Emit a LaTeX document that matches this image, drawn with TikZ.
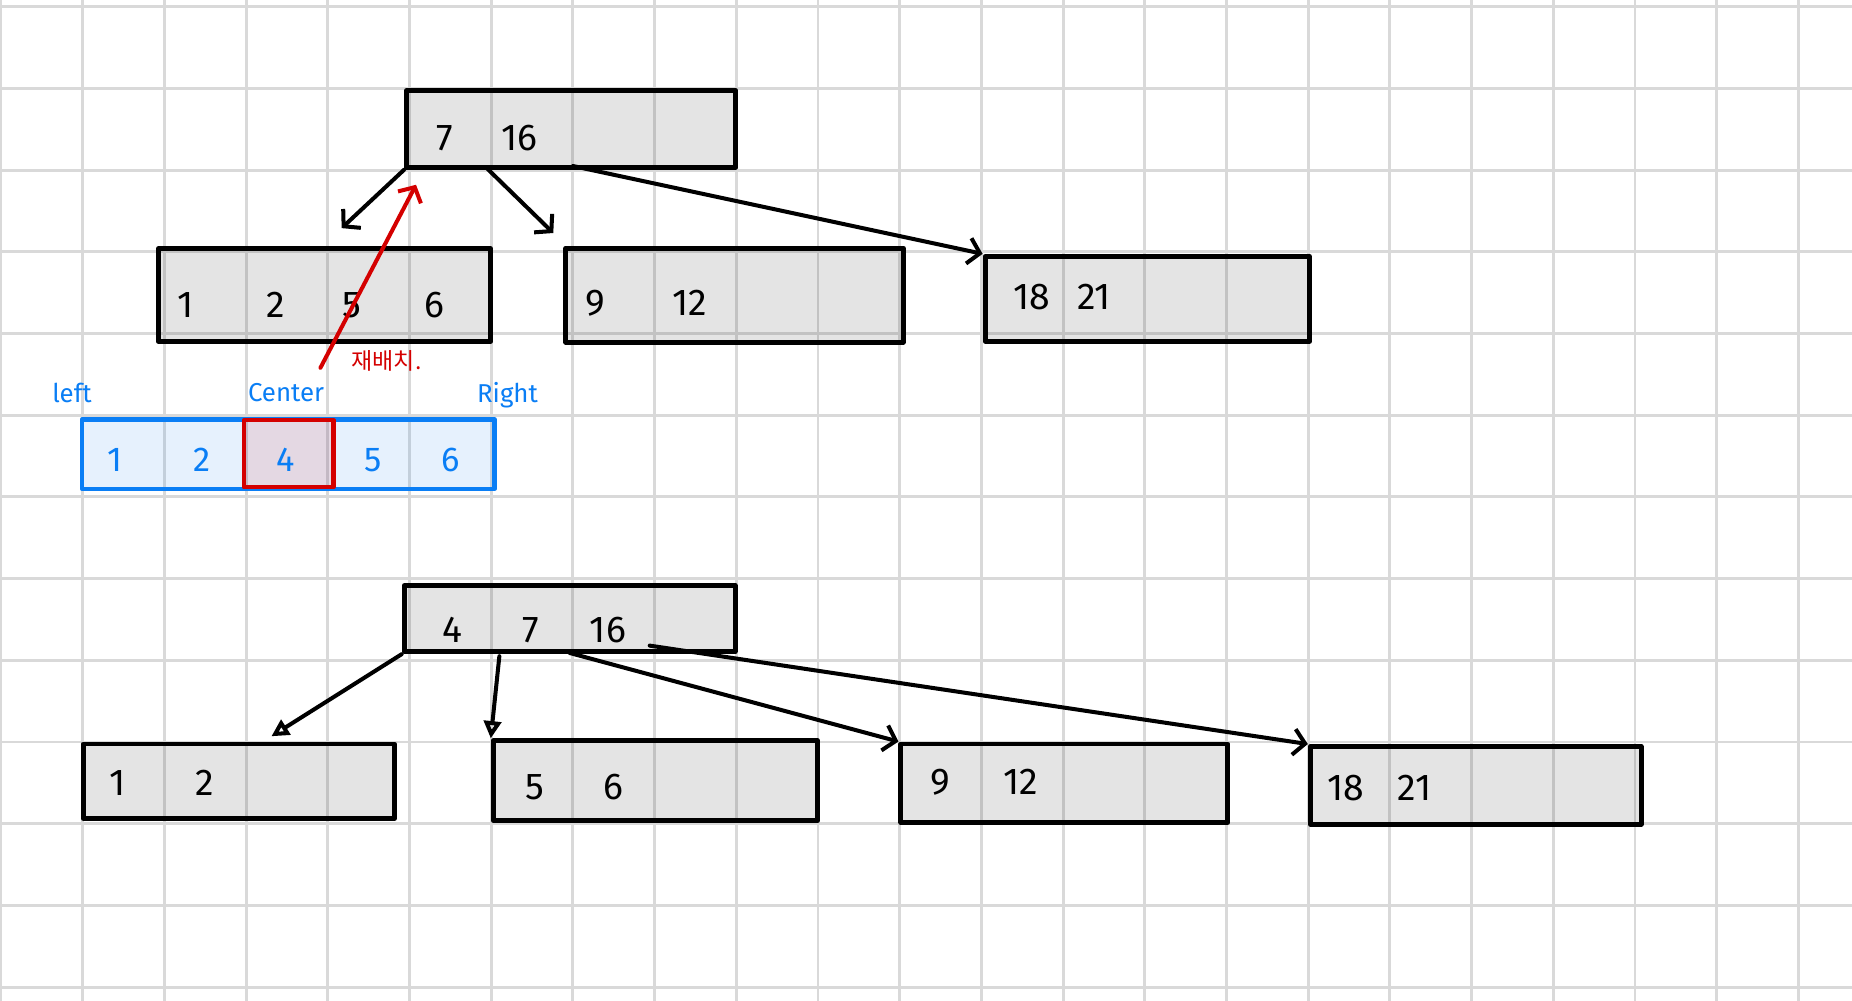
\documentclass[tikz,border=0pt]{standalone}
\usepackage{fontspec}
\setmainfont{Fira Sans}
\newfontfamily\krfont{Noto Sans CJK KR}
\usetikzlibrary{arrows.meta,calc}
\definecolor{gridc}{RGB}{217,217,217}
\definecolor{bluec}{RGB}{10,126,245}
\definecolor{redc}{RGB}{212,0,0}
\begin{document}
\begin{tikzpicture}[x=1cm,y=-1cm,
  gridline/.style={draw=gridc, line width=1pt},
  box/.style={rectangle, draw=black, line width=1.7pt, fill=black, fill opacity=0.105,
    draw opacity=1, text opacity=1, inner sep=0pt, anchor=north west, line join=round},
  bluebox/.style={box, draw=bluec, fill=bluec, fill opacity=0.1, line width=1.5pt},
  redbox/.style={box, draw=redc, fill=redc, fill opacity=0.1, line width=1.5pt},
  num/.style={inner sep=0pt, font=\fontsize{13}{15}\selectfont},
  bnum/.style={num, text=bluec, font=\fontsize{12}{14}\selectfont},
  blabel/.style={inner sep=0pt, text=bluec, font=\fontsize{9}{11}\selectfont},
  rlabel/.style={inner sep=0pt, text=redc, font=\krfont\fontsize{8}{10}\selectfont},
  arr/.style={draw=black, line width=1.4pt, line cap=round,
    -{Straight Barb[length=4pt,width=9pt,line width=1.4pt]}},
  arrtri/.style={draw=black, line width=1.4pt, line cap=round,
    -{Triangle[open,length=6pt,width=6pt,line width=1.4pt]}},
  redarr/.style={draw=redc, line width=1.4pt, line cap=round,
    -{Straight Barb[length=4pt,width=9pt,line width=1.4pt]}}
]
\useasboundingbox (-0.012,-0.082) rectangle (22.656,12.158);
\fill[white] (-0.012,-0.082) rectangle (22.656,12.158);
% grid
\foreach \i in {0,...,22} \draw[gridline] (\i,-0.2) -- (\i,12.3);
\foreach \j in {0,...,12} \draw[gridline] (-0.1,\j) -- (22.8,\j);

% upper tree
\node[box, minimum width=4.03cm, minimum height=0.94cm] (T) at (4.935,0.995) {};
\node[box, minimum width=4.07cm, minimum height=1.13cm] (L1) at (1.895,2.935) {};
\node[box, minimum width=4.13cm, minimum height=1.15cm] (M1) at (6.885,2.925) {};
\node[box, minimum width=3.97cm, minimum height=1.04cm] (R1) at (12.015,3.025) {};

\node[num] (T-a) at (5.43,1.61) {7};
\node[num] (T-b) at (6.35,1.61) {16};
\node[num] (L1-a) at (2.26,3.65) {1};
\node[num] (L1-b) at (3.36,3.65) {2};
\node[num] (L1-c) at (4.30,3.65) {5};
\node[num] (L1-d) at (5.31,3.65) {6};
\node[num] (M1-a) at (7.27,3.63) {9};
\node[num] (M1-b) at (8.43,3.63) {12};
\node[num] (R1-a) at (12.62,3.55) {18};
\node[num] (R1-b) at (13.38,3.55) {21};

% overflowing array
\node[bluebox, minimum width=5.05cm, minimum height=0.85cm] (A) at (0.965,5.025) {};
\node[redbox, minimum width=1.10cm, minimum height=0.82cm] (C) at (2.945,5.035) {};
\node[bnum] (A-a) at (1.40,5.55) {1};
\node[bnum] (A-b) at (2.46,5.55) {2};
\node[bnum] (A-c) at (3.48,5.55) {4};
\node[bnum] (A-d) at (4.55,5.55) {5};
\node[bnum] (A-e) at (5.50,5.55) {6};
\node[blabel] (lbl-left) at (0.87,4.73) {left};
\node[blabel] (lbl-center) at (3.49,4.72) {Center};
\node[blabel] (lbl-right) at (6.20,4.75) {Right};
\node[rlabel] (lbl-move) at (4.72,4.34) {재배치.};

% upper arrows
\coordinate (t1e) at (4.17,2.71);
\coordinate (t2s) at (5.95,1.98);
\coordinate (t2e) at (6.76,2.77);
\coordinate (t3s) at (7.00,1.95);
\draw[arr] (T.south west) -- (t1e);
\draw[arr] (t2s) -- (t2e);
\draw[arr] (t3s) -- (R1.north west);
\coordinate (rs) at (3.91,4.42);
\coordinate (re) at (5.08,2.18);
\draw[redarr] (rs) -- (re);

% lower tree
\node[box, minimum width=4.05cm, minimum height=0.81cm] (T2) at (4.905,7.055) {};
\node[box, minimum width=3.81cm, minimum height=0.91cm] (B1) at (0.975,8.995) {};
\node[box, minimum width=3.97cm, minimum height=0.98cm] (B2) at (5.995,8.955) {};
\node[box, minimum width=4.00cm, minimum height=0.96cm] (B3) at (10.985,8.995) {};
\node[box, minimum width=4.05cm, minimum height=0.95cm] (B4) at (15.995,9.025) {};

\node[num] (T2-a) at (5.52,7.63) {4};
\node[num] (T2-b) at (6.49,7.63) {7};
\node[num] (T2-c) at (7.43,7.63) {16};
\node[num] (B1-a) at (1.43,9.50) {1};
\node[num] (B1-b) at (2.50,9.50) {2};
\node[num] (B2-a) at (6.53,9.55) {5};
\node[num] (B2-b) at (7.50,9.55) {6};
\node[num] (B3-a) at (11.50,9.49) {9};
\node[num] (B3-b) at (12.48,9.49) {12};
\node[num] (B4-a) at (16.46,9.56) {18};
\node[num] (B4-b) at (17.30,9.56) {21};

% lower arrows
\coordinate (bae) at (3.31,8.93);
\coordinate (bbs) at (6.10,7.95);
\coordinate (bcs) at (6.96,7.91);
\coordinate (bds) at (7.94,7.82);
\draw[arrtri] (T2.south west) -- (bae);
\draw[arrtri] (bbs) -- (B2.north west);
\draw[arr] (bcs) -- (B3.north west);
\draw[arr] (bds) -- (B4.north west);
\end{tikzpicture}
\end{document}
